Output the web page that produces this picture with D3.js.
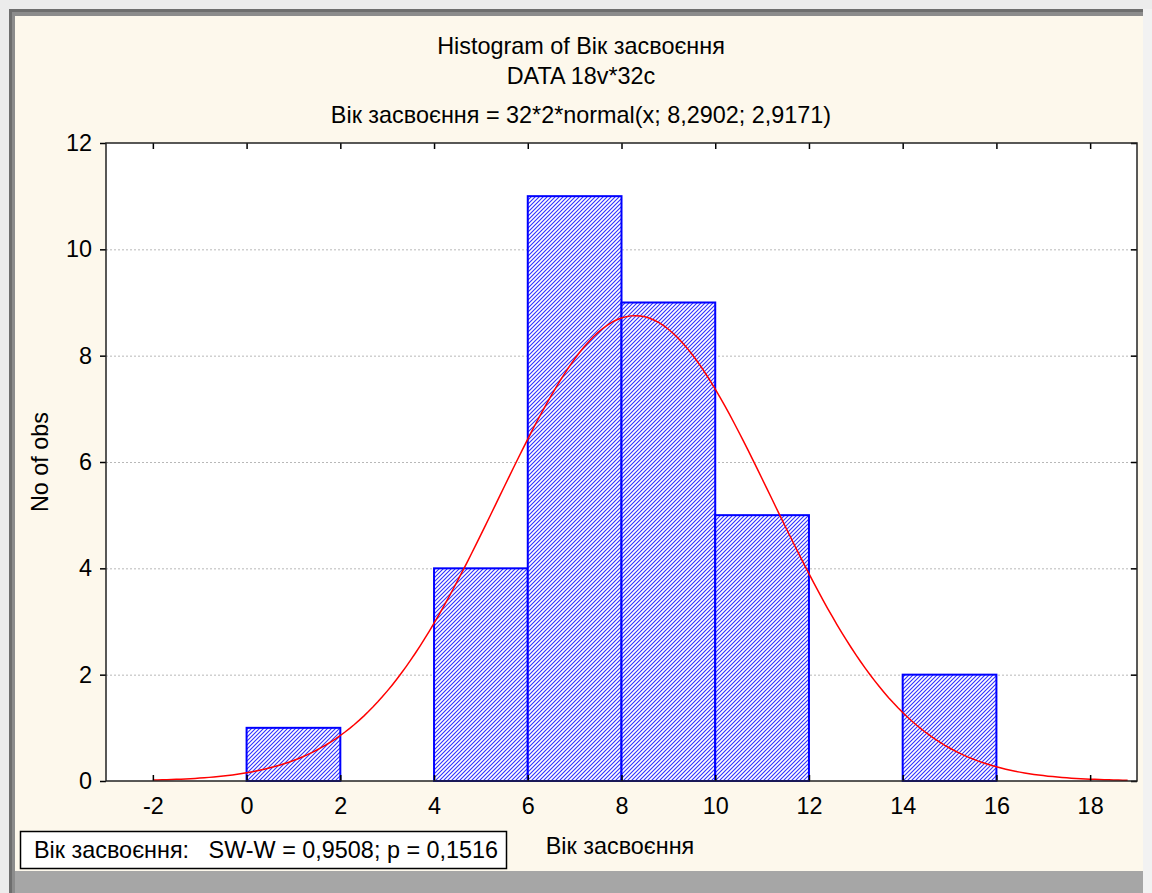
<!DOCTYPE html>
<html>
<head>
<meta charset="utf-8">
<script src="https://cdn.jsdelivr.net/npm/d3@7"></script>
<style>
body { margin: 0; background: #ebebeb; }
text { font-family: "Liberation Sans", Arial, sans-serif; fill: #000; }
</style>
</head>
<body>
<div id="viz"></div>
<script>
// histogram data (bins of width 2)
var binStarts = [0, 4, 6, 8, 10, 14];
var binCounts = [1, 4, 11, 9, 5, 2];
var binWidth = 2;
var xTicks = [-2, 0, 2, 4, 6, 8, 10, 12, 14, 16, 18];
var yTicks = [0, 2, 4, 6, 8, 10, 12];
// fitted normal: 32*2*normal(x; 8,2902; 2,9171)
var nObs = 32, fitMean = 8.2902, fitSd = 2.9171;
var curveFrom = -2, curveTo = 18.8;

var titles = ["Histogram of Вік засвоєння", "DATA 18v*32c",
  "Вік засвоєння = 32*2*normal(x; 8,2902; 2,9171)"];
var xLabel = "Вік засвоєння", yLabel = "No of obs";
var legendText = "Вік засвоєння:   SW-W = 0,9508; p = 0,1516";

var W = 1152, H = 893;
var FS = "23.4px";
var plot = {left: 106, right: 1137, top: 143, bottom: 781};

var svg = d3.select("#viz").append("svg")
  .attr("width", W).attr("height", H);

// window frame
svg.append("rect").attr("x", 0).attr("y", 0).attr("width", W).attr("height", H).attr("fill", "#ececec");
svg.append("rect").attr("x", 9).attr("y", 9).attr("width", 1134).attr("height", 884).attr("fill", "#6e6e6e");
svg.append("rect").attr("x", 12).attr("y", 12).attr("width", 1131).attr("height", 881).attr("fill", "#8c8c8c");
svg.append("rect").attr("x", 15).attr("y", 16).attr("width", 1128).attr("height", 855).attr("fill", "#fdf8ec");
svg.append("rect").attr("x", 15).attr("y", 871).attr("width", 1128).attr("height", 22).attr("fill", "#a6a6a6");
svg.append("rect").attr("x", 1143).attr("y", 9).attr("width", 9).attr("height", 884).attr("fill", "#f2f2f2");

var defs = svg.append("defs");
var pat = defs.append("pattern").attr("id", "hatch")
  .attr("patternUnits", "userSpaceOnUse").attr("width", 4).attr("height", 4);
pat.append("rect").attr("width", 4).attr("height", 4).attr("fill", "#fff");
pat.append("path").attr("d", "M-1,1 l2,-2 M0,4 l4,-4 M3,5 l2,-2")
  .attr("stroke", "#3030ff").attr("stroke-width", 1.1);

var x = d3.scaleLinear().domain([-3, 19]).range([plot.left, plot.right]);
var y = d3.scaleLinear().domain([0, 12]).range([plot.bottom, plot.top]);

svg.append("rect").attr("x", plot.left).attr("y", plot.top)
  .attr("width", plot.right - plot.left).attr("height", plot.bottom - plot.top)
  .attr("fill", "#fff");

// dotted grid
svg.append("g").selectAll("line").data(yTicks.filter(function(d) { return d > 0 && d < 12; }))
  .enter().append("line")
  .attr("x1", plot.left).attr("x2", plot.right)
  .attr("y1", function(d) { return y(d) + 0.5; }).attr("y2", function(d) { return y(d) + 0.5; })
  .attr("stroke", "#b8b8b8").attr("stroke-dasharray", "2,2");

// bars
svg.append("g").selectAll("rect").data(binStarts).enter().append("rect")
  .attr("x", function(d) { return x(d); })
  .attr("width", function(d) { return x(d + binWidth) - x(d); })
  .attr("y", function(d, i) { return y(binCounts[i]); })
  .attr("height", function(d, i) { return y(0) - y(binCounts[i]); })
  .attr("fill", "url(#hatch)").attr("stroke", "#0000ff").attr("stroke-width", 2);

// normal curve
var k = nObs * binWidth / (fitSd * Math.sqrt(2 * Math.PI));
var pts = d3.range(curveFrom, curveTo + 0.001, 0.1).map(function(v) {
  return [v, k * Math.exp(-0.5 * Math.pow((v - fitMean) / fitSd, 2))];
});
svg.append("path").datum(pts)
  .attr("d", d3.line().x(function(d) { return x(d[0]); }).y(function(d) { return y(d[1]); }))
  .attr("fill", "none").attr("stroke", "#ff0000").attr("stroke-width", 1.5);

// axes
var fmt = function(d) { return String(d); };
var axL = svg.append("g").attr("transform", "translate(" + plot.left + ",0)")
  .call(d3.axisLeft(y).tickValues(yTicks).tickSize(6).tickPadding(8).tickFormat(fmt));
var axB = svg.append("g").attr("transform", "translate(0," + plot.bottom + ")")
  .call(d3.axisBottom(x).tickValues(xTicks).tickSize(-6).tickPadding(16).tickFormat(fmt));
var axT = svg.append("g").attr("transform", "translate(0," + plot.top + ")")
  .call(d3.axisTop(x).tickValues(xTicks).tickSize(-6).tickFormat(""));
var axR = svg.append("g").attr("transform", "translate(" + plot.right + ",0)")
  .call(d3.axisRight(y).tickValues(yTicks).tickSize(-6).tickFormat(""));
[axL, axB, axT, axR].forEach(function(a) {
  a.select(".domain").remove();
  a.selectAll("line").attr("stroke", "#000").attr("stroke-width", 1.5);
  a.selectAll("text").style("font-size", FS).attr("fill", "#000");
});
svg.append("rect").attr("x", plot.left).attr("y", plot.top)
  .attr("width", plot.right - plot.left).attr("height", plot.bottom - plot.top)
  .attr("fill", "none").attr("stroke", "#222").attr("stroke-width", 1.5);

// titles
svg.selectAll(".title").data(titles).enter().append("text")
  .attr("class", "title")
  .attr("x", 581).attr("y", function(d, i) { return [54, 84, 123][i]; })
  .attr("text-anchor", "middle").style("font-size", FS)
  .text(function(d) { return d; });

svg.append("text").attr("x", 620).attr("y", 854).attr("text-anchor", "middle")
  .style("font-size", FS).text(xLabel);
svg.append("text").attr("transform", "translate(48," + 462 + ") rotate(-90)")
  .attr("text-anchor", "middle").style("font-size", FS).text(yLabel);

// legend box
svg.append("rect").attr("x", 20.5).attr("y", 831.5).attr("width", 486).attr("height", 37)
  .attr("fill", "#fff").attr("stroke", "#000").attr("stroke-width", 1.5);
svg.append("text").attr("x", 34).attr("y", 858).style("font-size", FS)
  .attr("xml:space", "preserve").style("white-space", "pre").text(legendText);
</script>
</body>
</html>
